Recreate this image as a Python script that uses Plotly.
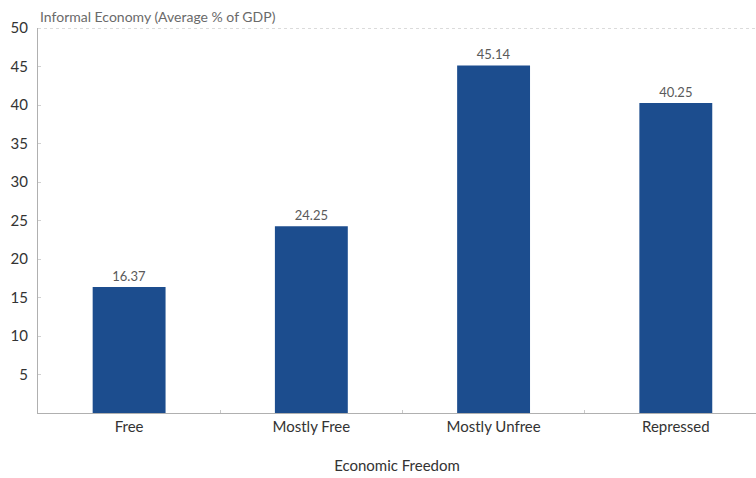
import plotly.graph_objects as go

categories = ["Free", "Mostly Free", "Mostly Unfree", "Repressed"]
values = [16.37, 24.25, 45.14, 40.25]
value_labels = ["16.37", "24.25", "45.14", "40.25"]
y_ticks = [5, 10, 15, 20, 25, 30, 35, 40, 45, 50]

fig = go.Figure(
    go.Bar(
        x=categories,
        y=values,
        text=value_labels,
        textposition="outside",
        textfont=dict(family="Lato", size=13, color="#5a5a5a"),
        marker=dict(color="#1c4d8e", line=dict(width=0)),
        width=0.4,
        cliponaxis=False,
    )
)

fig.update_layout(
    width=756,
    height=478,
    margin=dict(l=38, r=0, t=28, b=65),
    plot_bgcolor="white",
    paper_bgcolor="white",
    showlegend=False,
    font=dict(family="Lato", color="#333333"),
    annotations=[
        dict(
            text="Informal Economy (Average % of GDP)",
            x=0, y=1, xref="paper", yref="paper",
            xanchor="left", yanchor="bottom", yshift=1,
            showarrow=False,
            font=dict(family="Lato", size=14, color="#6a6a6a"),
        )
    ],
)

fig.update_xaxes(
    range=[-0.5, 3.44],
    showline=True, linecolor="#b0b0b0", linewidth=1,
    ticks="inside", tickson="boundaries", ticklen=3, tickcolor="#c8c8c8",
    tickfont=dict(family="Lato", size=15, color="#333333"),
    showgrid=False,
    title=dict(text="Economic Freedom", font=dict(family="Lato", size=15, color="#333333"), standoff=26),
)

fig.update_yaxes(
    range=[0, 50],
    tickvals=y_ticks,
    ticktext=[str(v) for v in y_ticks],
    showline=True, linecolor="#b0b0b0", linewidth=1,
    ticks="inside", ticklen=3, tickcolor="#d0d0d0",
    ticklabelstandoff=6,
    tickfont=dict(family="Lato", size=15, color="#333333"),
    showgrid=False,
    zeroline=False,
)

# dotted rule along the top of the plot at 50
fig.add_shape(
    type="line", xref="paper", yref="y",
    x0=0, x1=1, y0=50, y1=50,
    line=dict(color="#b8b8b8", width=1, dash="dot"),
)

fig.write_html("out.html")
